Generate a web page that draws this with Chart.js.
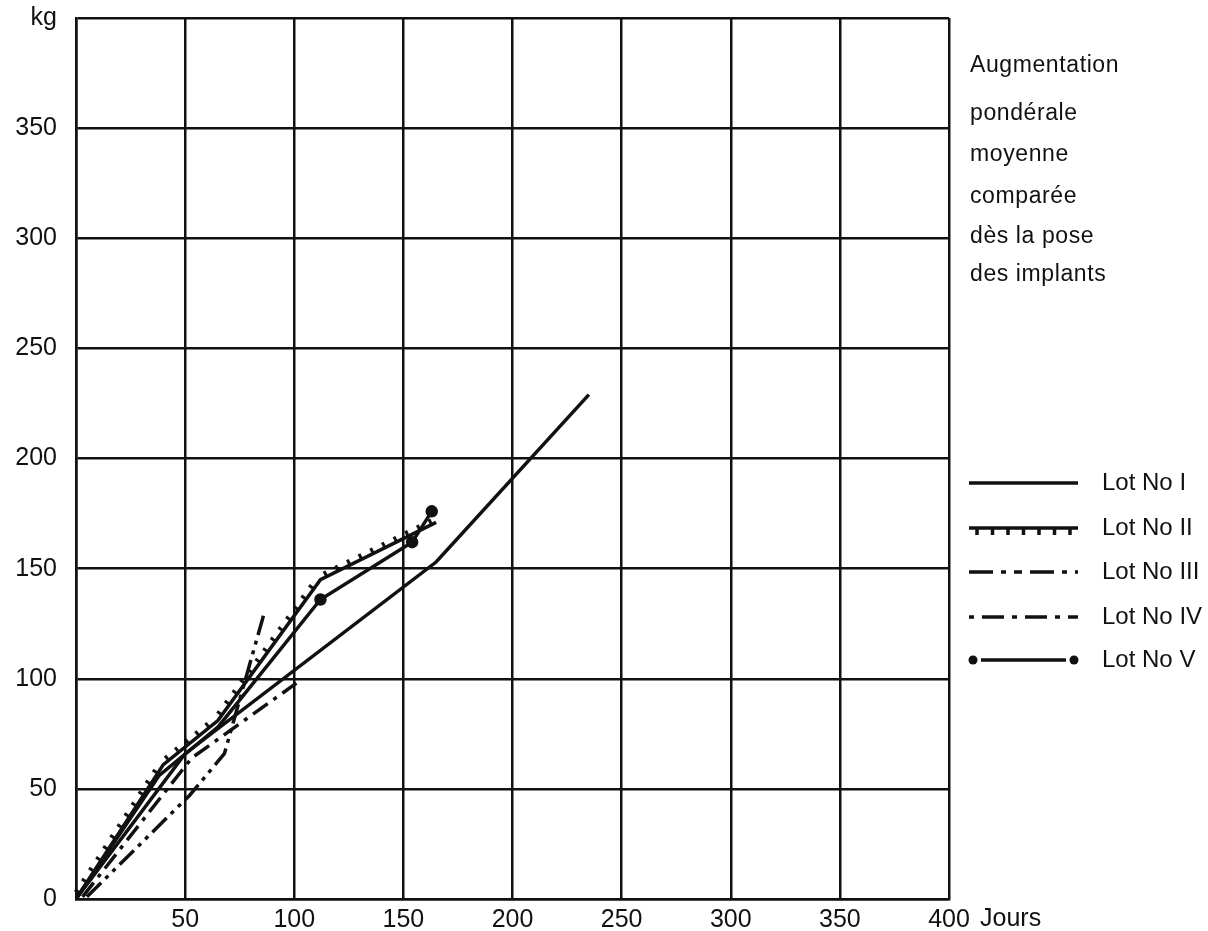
<!DOCTYPE html>
<html>
<head>
<meta charset="utf-8">
<script src="https://cdn.jsdelivr.net/npm/chart.js@4.4.0/dist/chart.umd.min.js"></script>
<style>
  html, body { margin: 0; padding: 0; background: #fff; }
  #wrap { width: 1208px; height: 931px; }
</style>
</head>
<body>
<div id="wrap"><canvas id="chart"></canvas></div>
<script>
// Data (days, kg)
const lot1Days = [0, 50, 165, 235];
const lot1Kg   = [0, 66, 153, 229];
const lot2Days = [0, 40, 65, 112, 165];
const lot2Kg   = [0, 61, 81, 145, 171];
const lot3Days = [5, 52, 68, 86];
const lot3Kg   = [1, 47, 66, 129];
const lot4Days = [3, 53, 101];
const lot4Kg   = [1, 64, 98];
const lot5Days = [0, 38, 65, 112, 154, 163];
const lot5Kg   = [0, 56, 78, 136, 162, 176];
const lot5Dots = [0, 0, 0, 4.5, 4.5, 4.5];

const lotNames = ["Lot No I", "Lot No II", "Lot No III", "Lot No IV", "Lot No V"];
const titleLines = ["Augmentation", "pondérale", "moyenne", "comparée", "dès la pose", "des implants"];
const yTopLabel = "kg";
const xUnit = "Jours";

const INK = "#111";
const FONT = "'Liberation Sans', Arial, sans-serif";

function pts(days, kg) {
    return days.map((d, i) => ({ x: d, y: kg[i] }));
}

const dashIII = [20, 6, 4, 6, 4, 6];
const dashIV = [18, 7, 4, 7];

// ticks along Lot II
const tickMarks = {
    id: "tickMarks",
    afterDatasetsDraw(chart) {
        const p = chart.getDatasetMeta(1).data;
        const ctx = chart.ctx;
        ctx.save();
        ctx.strokeStyle = INK;
        ctx.lineWidth = 3;
        for (let i = 1; i < p.length; i++) {
            const dx = p[i].x - p[i - 1].x, dy = p[i].y - p[i - 1].y;
            const len = Math.hypot(dx, dy);
            const nx = dy / len, ny = -dx / len;
            for (let s = 7; s < len - 3; s += 13) {
                const x = p[i - 1].x + dx * s / len, y = p[i - 1].y + dy * s / len;
                ctx.beginPath();
                ctx.moveTo(x, y);
                ctx.lineTo(x + nx * 6, y + ny * 6);
                ctx.stroke();
            }
        }
        ctx.restore();
    }
};

// right-hand title, legend and axis unit
const sideText = {
    id: "sideText",
    afterDraw(chart) {
        const ctx = chart.ctx;
        const area = chart.chartArea;
        ctx.save();
        ctx.fillStyle = INK;
        ctx.textBaseline = "alphabetic";
        ctx.font = "23px " + FONT;
        ctx.letterSpacing = "0.6px";
        const baselines = [72, 120, 161, 203, 243, 281];
        titleLines.forEach((t, i) => ctx.fillText(t, 970, baselines[i]));
        ctx.letterSpacing = "0px";

        ctx.textBaseline = "middle";
        ctx.font = "25px " + FONT;
        ctx.fillText(xUnit, area.right + 31, area.bottom + 20);

        ctx.font = "24px " + FONT;
        const x0 = 969, x1 = 1078;
        const rows = [483, 528, 572, 617, 660];
        ctx.strokeStyle = INK;
        ctx.lineWidth = 3.5;
        rows.forEach((y, i) => {
            ctx.setLineDash(i === 2 ? [24, 8, 5, 8, 8, 8] : i === 3 ? [5, 8, 22, 8] : []);
            ctx.beginPath();
            if (i === 4) {
                ctx.moveTo(x0 + 12, y);
                ctx.lineTo(x1 - 12, y);
            } else {
                ctx.moveTo(x0, y);
                ctx.lineTo(x1, y);
            }
            ctx.stroke();
            ctx.setLineDash([]);
            if (i === 1) {
                for (let x = x0 + 8; x < x1; x += 15.5) {
                    ctx.beginPath();
                    ctx.moveTo(x, y);
                    ctx.lineTo(x, y + 7);
                    ctx.stroke();
                }
            }
            if (i === 4) {
                [x0 + 4, x1 - 4].forEach(cx => {
                    ctx.beginPath();
                    ctx.arc(cx, y, 4.5, 0, Math.PI * 2);
                    ctx.fill();
                });
            }
            ctx.fillText(lotNames[i], 1102, y);
        });
        ctx.restore();
    }
};

const ctx = document.getElementById("chart").getContext("2d");

const line = (label, data, extra) => Object.assign({
    label: label,
    data: data,
    borderColor: INK,
    backgroundColor: INK,
    borderWidth: 3.5,
    pointRadius: 0,
    tension: 0,
    fill: false
}, extra);

new Chart(ctx, {
    type: "line",
    data: {
        datasets: [
            line(lotNames[0], pts(lot1Days, lot1Kg)),
            line(lotNames[1], pts(lot2Days, lot2Kg)),
            line(lotNames[2], pts(lot3Days, lot3Kg), { borderDash: dashIII }),
            line(lotNames[3], pts(lot4Days, lot4Kg), { borderDash: dashIV }),
            line(lotNames[4], pts(lot5Days, lot5Kg), { pointRadius: lot5Dots })
        ]
    },
    options: {
        responsive: true,
        maintainAspectRatio: false,
        animation: false,
        layout: { padding: { top: 18, right: 259, left: 0, bottom: 0 } },
        plugins: {
            legend: { display: false },
            tooltip: { enabled: false }
        },
        scales: {
            x: {
                type: "linear",
                min: 0,
                max: 400,
                afterFit: s => { s.height = 32; s.paddingLeft = 0; s.paddingRight = 0; },
                grid: { color: INK, lineWidth: 2.5, drawTicks: false },
                border: { color: INK, width: 2.5 },
                ticks: {
                    stepSize: 50,
                    autoSkip: false,
                    maxRotation: 0,
                    padding: 6,
                    color: INK,
                    font: { family: FONT, size: 25 },
                    callback: v => v === 0 ? "" : String(v)
                }
            },
            y: {
                min: 0,
                max: 400,
                afterFit: s => { s.width = 76; s.paddingTop = 0; s.paddingBottom = 0; },
                grid: { color: INK, lineWidth: 2.5, drawTicks: false },
                border: { color: INK, width: 2.5 },
                ticks: {
                    stepSize: 50,
                    padding: 19,
                    color: INK,
                    font: { family: FONT, size: 25 },
                    callback: v => v === 400 ? yTopLabel : String(v)
                }
            }
        }
    },
    plugins: [tickMarks, sideText]
});
</script>
</body>
</html>
